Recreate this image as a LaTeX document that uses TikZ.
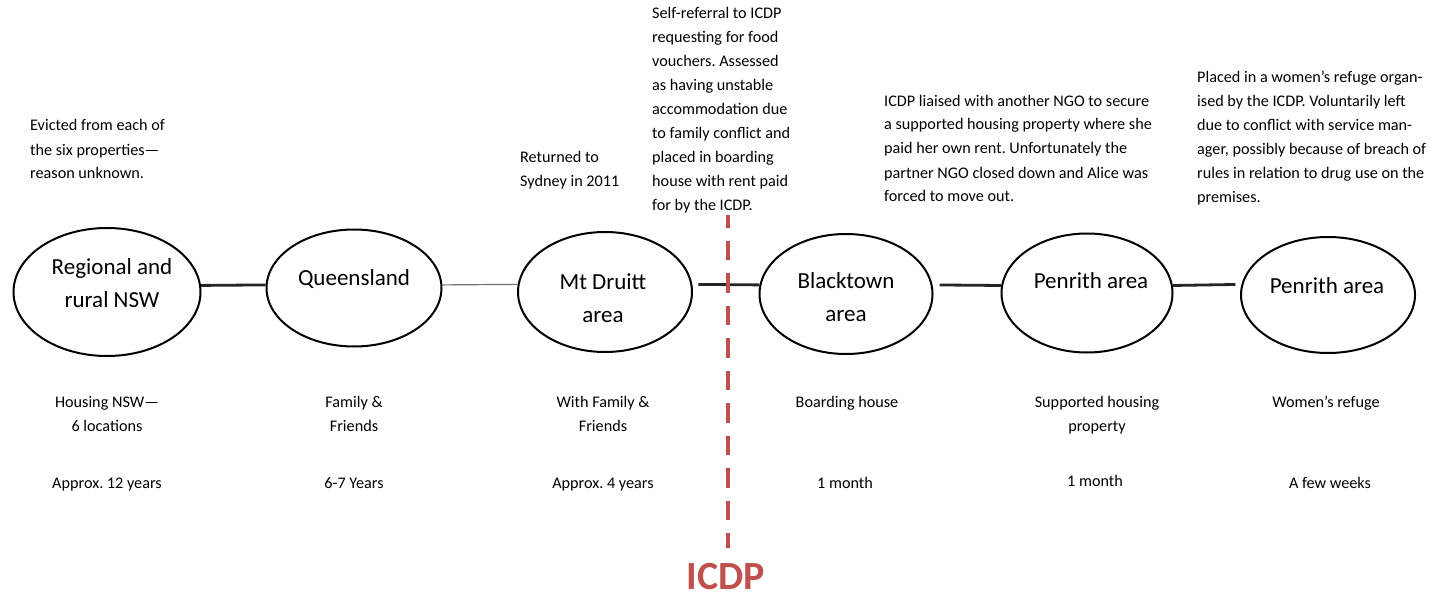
\documentclass[tikz,border=0pt]{standalone}
\usepackage{fontspec}
\setmainfont{Carlito}
\usetikzlibrary{shapes.geometric}
\definecolor{icdpred}{RGB}{192,80,77}
\frenchspacing
\begin{document}
\begin{tikzpicture}[x=1pt,y=-1pt,
  place/.style={draw, ellipse, line width=2pt, inner sep=0pt},
  placename/.style={align=center, anchor=base, inner sep=0pt,
    font=\fontsize{23}{33}\selectfont},
  note/.style={align=left, anchor=base west, inner sep=0pt,
    font=\fontsize{16.2}{24}\selectfont},
  info/.style={align=center, anchor=base, inner sep=0pt,
    font=\fontsize{16.2}{24}\selectfont},
  link/.style={line width=2.8pt, color=black!85},
  thinlink/.style={line width=1.2pt, color=black!55},
  divider/.style={line width=4pt, color=icdpred, dash pattern=on 19.5pt off 13pt, dash phase=7pt}]
\useasboundingbox (0,0) rectangle (1445,596);

% places along the timeline
\node[place, minimum width=187pt, minimum height=128pt] (e1) at (107,292) {};
\node[place, minimum width=175pt, minimum height=117pt] (e2) at (354,288) {};
\node[place, minimum width=174pt, minimum height=120pt] (e3) at (605,292) {};
\node[place, minimum width=173pt, minimum height=120pt] (e4) at (846,294) {};
\node[place, minimum width=171pt, minimum height=119pt] (e5) at (1087,293) {};
\node[place, minimum width=174pt, minimum height=116pt] (e6) at (1328,295) {};

% place names (anchored at the baseline of the last line)
\node[placename] (n1) at (112,307) {Regional and\\rural NSW};
\node[placename] (n2) at (354,285) {Queensland};
\node[placename] (n3) at (603,322) {Mt Druitt\\area};
\node[placename] (n4) at (846,321) {Blacktown\\area};
\node[placename] (n5) at (1091,288) {Penrith area};
\node[placename] (n6) at (1327,293) {Penrith area};

% connectors between places
\draw[link] (e1.4) -- (e2.178);
\draw[thinlink] (e2.2) -- (e3.175);
\draw[link, shorten <=6pt] (e3.5) -- (e4.174);
\draw[link, shorten <=7pt] (e4.6) -- (e5.175);
\draw[link, shorten >=6pt] (e5.5) -- (e6.173);

% ICDP divider
\node[font=\fontsize{40}{40}\selectfont\bfseries, text=icdpred, anchor=base, inner sep=0pt] (icdp) at (726,589) {ICDP};
\coordinate (divtop) at (728,215);
\coordinate (divbottom) at (728,548);
\draw[divider] (divtop) -- (divbottom);

% notes above the timeline (anchored at the baseline of the last line)
\node[note] (evicted) at (30,179) {Evicted from each of\\the six properties—\\reason unknown.};
\node[note] (returned) at (520,186) {Returned to\\Sydney in 2011};
\node[note] (referral) at (652,211) {Self-referral to ICDP\\requesting for food\\vouchers. Assessed\\as having unstable\\accommodation due\\to family conflict and\\placed in boarding\\house with rent paid\\for by the ICDP.};
\node[note] (liaised) at (884,202) {ICDP liaised with another NGO to secure\\a supported housing property where she\\paid her own rent. Unfortunately the\\partner NGO closed down and Alice was\\forced to move out.};
\node[note] (refugenote) at (1197,203) {Placed in a women’s refuge organ-\\ised by the ICDP. Voluntarily left\\due to conflict with service man-\\ager, possibly because of breach of\\rules in relation to drug use on the\\premises.};

% housing type and duration below each place
\node[info] (h1) at (107,431) {Housing NSW—\\6 locations};
\node[info] (d1) at (107,488) {Approx. 12 years};
\node[info] (h2) at (354,431) {Family \&\\Friends};
\node[info] (d2) at (354,488) {6-7 Years};
\node[info] (h3) at (603,431) {With Family \&\\Friends};
\node[info] (d3) at (603,488) {Approx. 4 years};
\node[info] (h4) at (847,407) {Boarding house};
\node[info] (d4) at (845,488) {1 month};
\node[info] (h5) at (1097,431) {Supported housing\\property};
\node[info] (d5) at (1095,486) {1 month};
\node[info] (h6) at (1326,407) {Women’s refuge};
\node[info] (d6) at (1330,488) {A few weeks};
\end{tikzpicture}
\end{document}
